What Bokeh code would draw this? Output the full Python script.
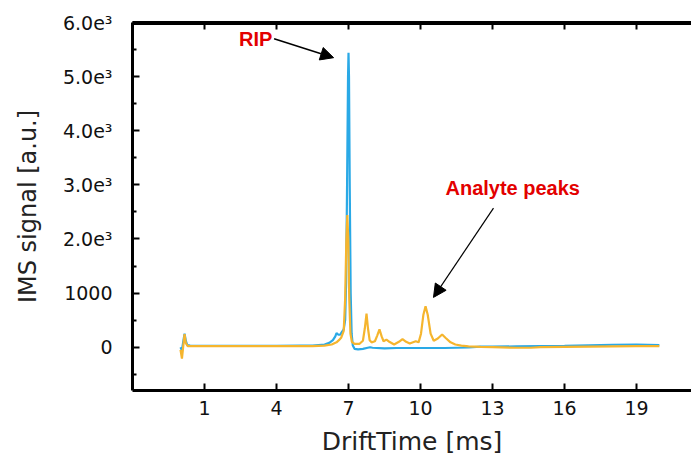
from bokeh.plotting import figure
from bokeh.models import LinearAxis, FixedTicker, Label, Arrow, NormalHead, Range1d
from bokeh.embed import file_html
from bokeh.resources import INLINE

# ---- data -------------------------------------------------------------
x_ticks = [1, 4, 7, 10, 13, 16, 19]
y_ticks = [0, 1000, 2000, 3000, 4000, 5000, 6000]
y_minor_ticks = [-500, 500, 1500, 2500, 3500, 4500, 5500]
y_tick_labels = ["0", "1000", "2.0e\u00b3", "3.0e\u00b3", "4.0e\u00b3", "5.0e\u00b3", "6.0e\u00b3"]

blue_x = [0.0, 0.06, 0.12, 0.17, 0.22, 0.28, 0.4, 1.0, 2.0, 3.0, 4.0, 5.0, 5.5,
          6.0, 6.2, 6.35, 6.45, 6.5, 6.58, 6.65, 6.72, 6.8, 6.86, 6.9, 6.94,
          6.98, 7.0, 7.02, 7.05, 7.09, 7.13, 7.18, 7.25, 7.4, 7.6, 7.8, 7.9,
          8.0, 8.5, 9.0, 10.0, 11.0, 12.0, 12.5, 13.0, 14.0, 15.0, 16.0, 17.0,
          18.0, 19.0, 19.95]
blue_y = [0, -60, 120, 250, 120, 40, 30, 25, 25, 25, 25, 30, 30,
          50, 80, 130, 200, 260, 230, 230, 280, 330, 500, 1200, 3000,
          5000, 5440, 5000, 3000, 1000, 250, 30, -30, -40, -30, -10, 0,
          -10, -20, -15, -15, -15, -5, 10, 10, 15, 20, 25, 35,
          45, 50, 40]

orange_x = [0.0, 0.06, 0.11, 0.17, 0.22, 0.3, 0.5, 1.0, 2.0, 3.0, 4.0, 5.0, 5.5,
            6.0, 6.3, 6.5, 6.6, 6.7, 6.8, 6.86, 6.91, 6.95, 6.99, 7.03, 7.08,
            7.14, 7.25, 7.45, 7.6, 7.68, 7.75, 7.81, 7.88, 7.96, 8.1, 8.2,
            8.29, 8.38, 8.46, 8.58, 8.7, 8.9, 9.1, 9.25, 9.4, 9.55, 9.8, 9.92,
            10.02, 10.12, 10.21, 10.3, 10.42, 10.55, 10.72, 10.9, 11.05, 11.25,
            11.45, 11.7, 12.0, 12.5, 13.0, 14.0, 14.6, 15.0, 16.0, 17.0, 18.0,
            19.0, 19.95]
orange_y = [-50, -210, 0, 240, 80, 20, 20, 20, 20, 20, 20, 20, 20,
            30, 50, 90, 130, 180, 300, 900, 2000, 2442, 2000, 900, 250,
            100, 60, 60, 120, 350, 620, 350, 130, 90, 110, 220,
            330, 200, 110, 140, 100, 50, 100, 150, 100, 70, 110, 90,
            250, 600, 755, 600, 250, 120, 160, 235, 170, 90,
            50, 30, 15, 5, 0, -10, -10, 0, 5, 10, 15,
            20, 20]

# annotation anchors (data units)
rip_text_pos = (3.83, 5700)
rip_arrow = (3.9, 5700, 6.38, 5350)
analyte_text_pos = (11.04, 2942)
analyte_arrow = (13.04, 2570, 10.54, 920)

Y_TOP = 6000
Y_BOTTOM = -800

# ---- figure -----------------------------------------------------------
p = figure(width=691, height=458,
           x_range=Range1d(-2, 21.29), y_range=Range1d(Y_BOTTOM, Y_TOP),
           output_backend="svg", toolbar_location=None,
           min_border_left=132, min_border_right=0,
           min_border_top=22, min_border_bottom=68,
           x_axis_label="DriftTime [ms]", y_axis_label="IMS signal [a.u.]")
p.outline_line_color = None
p.xgrid.grid_line_color = None
p.ygrid.grid_line_color = None
p.background_fill_color = "white"
p.border_fill_color = "white"

FONT = "DejaVu Sans"

xa = p.xaxis[0]
xa.ticker = FixedTicker(ticks=x_ticks, minor_ticks=[])
ya = p.yaxis[0]
ya.ticker = FixedTicker(ticks=y_ticks, minor_ticks=y_minor_ticks)
ya.major_label_overrides = {t: s for t, s in zip(y_ticks, y_tick_labels)}

for ax in (xa, ya):
    ax.axis_line_width = 3
    ax.axis_line_color = "black"
    ax.major_tick_in = 7
    ax.major_tick_out = 0
    ax.major_tick_line_width = 2
    ax.major_tick_line_color = "black"
    ax.minor_tick_in = 4
    ax.minor_tick_out = 0
    ax.minor_tick_line_width = 2
    ax.minor_tick_line_color = "black"
    ax.major_label_text_font = FONT
    ax.major_label_text_font_size = "19px"
    ax.major_label_text_color = "#111111"
    ax.axis_label_text_font = FONT
    ax.axis_label_text_font_style = "normal"
    ax.axis_label_text_color = "#222222"

xa.major_label_standoff = 10
xa.axis_label_text_font_size = "25px"
xa.axis_label_standoff = 9
ya.major_label_standoff = 20
ya.axis_label_text_font_size = "24px"
ya.axis_label_standoff = 18

top = LinearAxis(ticker=FixedTicker(ticks=x_ticks, minor_ticks=[]),
                 major_label_text_font_size="0px",
                 axis_line_width=3, axis_line_color="black",
                 major_tick_in=7, major_tick_out=0, major_tick_line_width=2,
                 major_tick_line_color="black",
                 minor_tick_in=0, minor_tick_out=0)
p.add_layout(top, "above")

# extra top frame edge drawn as a glyph (frame decoration)
p.hspan(y=[Y_TOP], line_color="black", line_width=5)

p.line(blue_x, blue_y, line_color="#2aa9e6", line_width=2.2)
p.line(orange_x, orange_y, line_color="#f5b52e", line_width=2.2)

RED = "#e30000"
p.add_layout(Label(x=rip_text_pos[0], y=rip_text_pos[1], text="RIP",
                   text_align="right", text_baseline="middle",
                   text_font="Liberation Sans", text_font_style="bold",
                   text_font_size="20px", text_color=RED))
p.add_layout(Label(x=analyte_text_pos[0], y=analyte_text_pos[1], text="Analyte peaks",
                   text_align="left", text_baseline="middle",
                   text_font="Liberation Sans", text_font_style="bold",
                   text_font_size="20px", text_color=RED))
p.add_layout(Arrow(x_start=rip_arrow[0], y_start=rip_arrow[1],
                   x_end=rip_arrow[2], y_end=rip_arrow[3],
                   line_color="black", line_width=1.5,
                   end=NormalHead(size=13, fill_color="black", line_color="black")))
p.add_layout(Arrow(x_start=analyte_arrow[0], y_start=analyte_arrow[1],
                   x_end=analyte_arrow[2], y_end=analyte_arrow[3],
                   line_color="black", line_width=1.2,
                   end=NormalHead(size=13, fill_color="black", line_color="black")))

open("out.html", "w").write(file_html(p, INLINE))
